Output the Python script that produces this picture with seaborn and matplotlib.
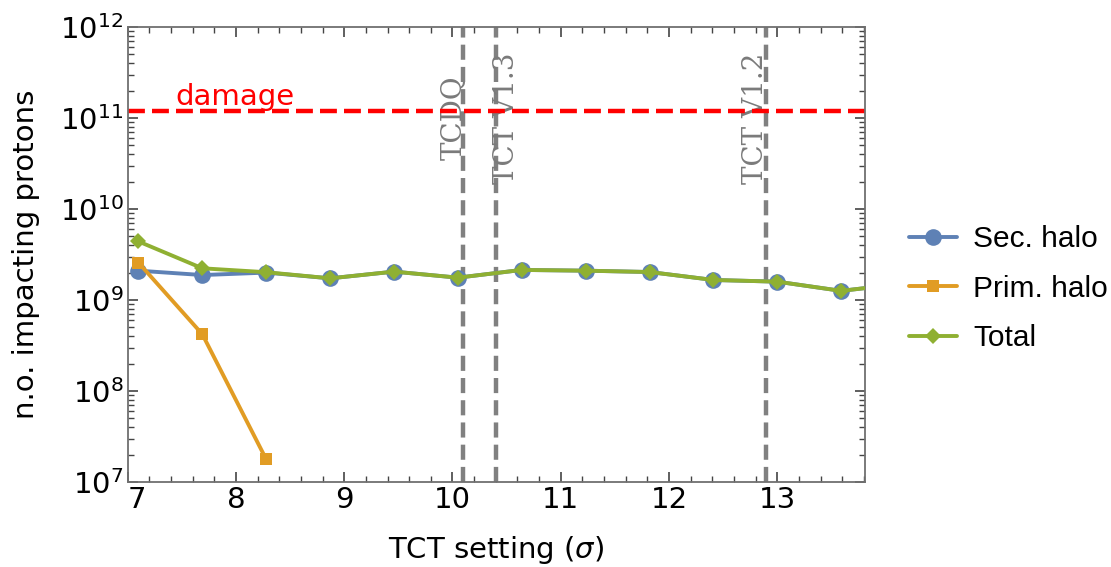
import matplotlib
matplotlib.use("Agg")
import matplotlib.pyplot as plt
import matplotlib.transforms as mtransforms
import seaborn as sns
from matplotlib.ticker import MultipleLocator, LogLocator, NullFormatter

# TCT setting in units of beam sigma
tct_setting = [7.10, 7.69, 8.28, 8.87, 9.46, 10.05, 10.64, 11.23, 11.82, 12.41, 13.00, 13.59, 14.18]
sec_halo = [2.10e9, 1.88e9, 2.00e9, 1.73e9, 2.05e9, 1.76e9, 2.14e9, 2.10e9, 2.03e9, 1.66e9, 1.59e9, 1.26e9, 1.52e9]
prim_setting = [7.10, 7.69, 8.28]
prim_halo = [2.57e9, 4.2e8, 1.77e7]
total = [4.40e9, 2.23e9, 2.02e9, 1.73e9, 2.05e9, 1.76e9, 2.14e9, 2.10e9, 2.03e9, 1.66e9, 1.59e9, 1.26e9, 1.52e9]

# reference collimator positions and damage threshold
coll_positions = [10.1, 10.4, 12.9]
coll_labels = ["TCDQ", "TCT V1.3", "TCT V1.2"]
damage_level = 1.2e11

BLUE = "#5E81B5"
ORANGE = "#E19C24"
GREEN = "#8FB032"
GRAY = "#808080"

sns.set_theme(style="ticks")
plt.rcParams["font.family"] = ["DejaVu Sans"]
plt.rcParams["mathtext.fontset"] = "dejavusans"
plt.rcParams["text.color"] = "black"
plt.rcParams["axes.labelcolor"] = "black"
plt.rcParams["xtick.labelcolor"] = "black"
plt.rcParams["ytick.labelcolor"] = "black"

fig = plt.figure(figsize=(11.11, 5.67), dpi=100)
ax = fig.add_axes([0.1149, 0.1499, 0.6637, 0.8025])
ax.set_yscale("log")

# collimator markers
label_shift = [-0.083, 0.10, -0.10]
for xpos, lab, dx in zip(coll_positions, coll_labels, label_shift):
    ax.axvline(xpos, color=GRAY, lw=3.2, ls=(0, (3.4, 1.6)), zorder=1)
    ax.text(xpos + dx, 1.0e11, lab, rotation=90, ha="center", va="center",
            color="#7a7a7a", fontsize=20, family="DejaVu Serif", zorder=1.5)

# damage threshold
ax.axhline(damage_level, color="#FF0000", lw=3.2, ls=(0, (3.8, 1.6)), zorder=2)
ax.text(7.437, 1.39e11, "damage", color="#FF0000", fontsize=21,
        ha="left", va="baseline", zorder=2)

sns.lineplot(x=tct_setting, y=sec_halo, ax=ax, color=BLUE, lw=2.8,
             marker="o", markersize=12, markeredgewidth=0, label="Sec. halo", zorder=3)
sns.lineplot(x=prim_setting, y=prim_halo, ax=ax, color=ORANGE, lw=2.8,
             marker="s", markersize=8.5, markeredgewidth=0, label="Prim. halo", zorder=4)
sns.lineplot(x=tct_setting, y=total, ax=ax, color=GREEN, lw=2.8,
             marker="D", markersize=8.5, markeredgewidth=0, label="Total", zorder=5)

ax.set_xlim(7, 13.81)
ax.set_ylim(1e7, 1e12)
ax.set_xticks(range(7, 14))
ax.xaxis.set_minor_locator(MultipleLocator(0.2))
ax.yaxis.set_major_locator(LogLocator(base=10, numticks=10))
ax.yaxis.set_minor_locator(LogLocator(base=10, subs=range(2, 10), numticks=20))
ax.yaxis.set_minor_formatter(NullFormatter())

for side in ax.spines.values():
    side.set_color("#707070")
    side.set_linewidth(1.3)
ax.tick_params(which="both", direction="in", top=True, right=True,
               color="#444444", labelsize=21, pad=3)
ax.tick_params(which="major", length=7, width=1.2)
ax.tick_params(which="minor", length=4, width=1.0)

# nudge the first x tick label right so it clears the 10^7 label
first_tick = ax.xaxis.get_major_ticks()[0]
first_tick.label1.set_transform(
    first_tick.label1.get_transform()
    + mtransforms.ScaledTranslation(9 / 100, 0, fig.dpi_scale_trans))

ax.set_xlabel("TCT setting ($\\sigma$)", fontsize=21, labelpad=14)
ax.set_ylabel("n.o. impacting protons", fontsize=21, labelpad=14)

ax.legend(loc="center left", bbox_to_anchor=(1.023, 0.425), frameon=False,
          prop={"family": "Liberation Sans", "size": 21.5},
          handlelength=1.6, labelspacing=0.72, handletextpad=0.55)

fig.savefig("out.png", dpi=100)
